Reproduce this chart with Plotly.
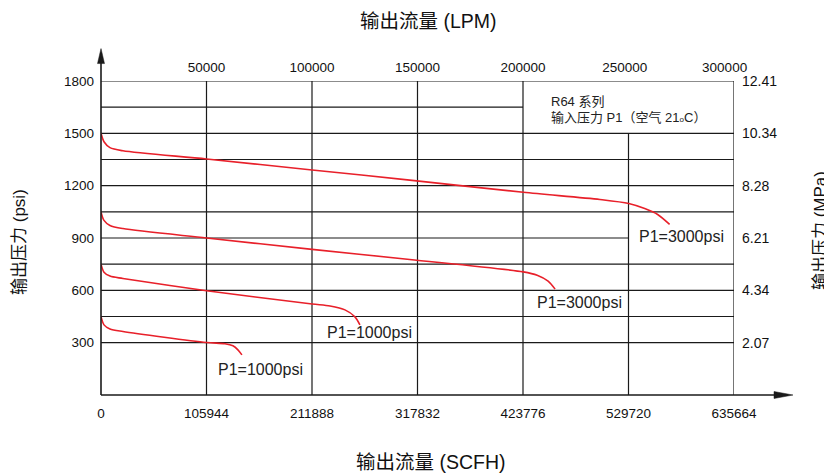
import plotly.graph_objects as go

# ---- data ----
scfh_ticks = [0, 105944, 211888, 317832, 423776, 529720, 635664]
lpm_ticks = [50000, 100000, 150000, 200000, 250000, 300000]
lpm_labels = ["50000", "100000", "150000", "200000", "250000\u00a0\u00a0", "300000\u00a0\u00a0\u00a0\u00a0\u00a0"]
psi_ticks = [300, 600, 900, 1200, 1500, 1800]
mpa_ticks = ["2.07", "4.34", "6.21", "8.28", "10.34", "12.41"]
grid_psi = [300, 450, 600, 750, 900, 1050, 1200, 1350, 1500, 1650, 1800]

# curve 1: P1=3000psi (upper)
c1_x = [0, 3000, 9000, 22000, 106000, 212000, 310000, 424000, 501000, 530000, 546000, 559000, 571000]
c1_y = [1500, 1452, 1418, 1400, 1353, 1290, 1232, 1162, 1121, 1098, 1069, 1035, 978]
# curve 2: P1=3000psi (lower)
c2_x = [0, 3000, 9000, 22000, 106000, 212000, 310000, 424000, 438000, 449000, 456000]
c2_y = [1050, 1001, 972, 954, 900, 835, 777, 706, 687, 653, 607]
# curve 3: P1=1000psi (upper)
c3_x = [0, 3000, 9000, 22000, 106000, 212000, 230000, 245000, 255000, 260000]
c3_y = [750, 704, 682, 668, 598, 522, 510, 488, 448, 402]
# curve 4: P1=1000psi (lower)
c4_x = [0, 3000, 9000, 22000, 106000, 124500, 132500, 137500, 141500]
c4_y = [450, 402, 379, 364, 301, 294, 282, 259, 230]

curve_labels = ["P1=3000psi", "P1=3000psi", "P1=1000psi", "P1=1000psi"]

FONT = "Liberation Sans, Arial, Noto Sans CJK SC, sans-serif"
RED = "#e8202a"
INK = "#1a1a1a"

fig = go.Figure()
for xs, ys in [(c1_x, c1_y), (c2_x, c2_y), (c3_x, c3_y), (c4_x, c4_y)]:
    fig.add_trace(go.Scatter(x=xs, y=ys, mode="lines",
                             line=dict(color=RED, width=1.6, shape="spline", smoothing=0.8),
                             showlegend=False, hoverinfo="skip"))
# dummy trace for secondary axes
fig.add_trace(go.Scatter(x=[None], y=[None], xaxis="x2", yaxis="y2", showlegend=False))

shapes = []
# horizontal grid
for p in grid_psi:
    x_end = scfh_ticks[-1]
    if p == 1650:
        x_end = scfh_ticks[4]
    elif p == 900:
        x_end = scfh_ticks[5]
    shapes.append(dict(type="line", xref="x", yref="y", x0=0, x1=x_end, y0=p, y1=p,
                       line=dict(color=INK, width=1.2), layer="below"))
# vertical grid
for v in scfh_ticks[1:]:
    y_top = 1500 if v == scfh_ticks[5] else 1800
    shapes.append(dict(type="line", xref="x", yref="y", x0=v, x1=v, y0=0, y1=y_top,
                       line=dict(color=INK, width=1.2), layer="below"))

# axes with arrows (paper coords); reference pixel frame: plot x 101..734, y bottom 395.5
PW, PH = 633.0, 315.0
ytip = (395.5 - 48) / PH
ybase = (395.5 - 63) / PH
xtip = (793 - 101) / PW
xbase = (774 - 101) / PW
shapes.append(dict(type="line", xref="paper", yref="paper", x0=0, x1=0, y0=0, y1=ybase + 0.005,
                   line=dict(color=INK, width=1.6)))
shapes.append(dict(type="path", xref="paper", yref="paper",
                   path=f"M {-3.5/PW} {ybase} L 0 {ytip} L {3.5/PW} {ybase} Z",
                   fillcolor=INK, line=dict(color=INK, width=0.5)))
shapes.append(dict(type="line", xref="paper", yref="paper", x0=0, x1=xbase + 0.005, y0=0, y1=0,
                   line=dict(color=INK, width=1.6)))
shapes.append(dict(type="path", xref="paper", yref="paper",
                   path=f"M {xbase} {-3.5/PH} L {xtip} 0 L {xbase} {3.5/PH} Z",
                   fillcolor=INK, line=dict(color=INK, width=0.5)))

annotations = []
label_pos = [(583400, 910), (481000, 528), (270100, 356), (159700, 145)]
for txt, (lx, ly) in zip(curve_labels, label_pos):
    annotations.append(dict(x=lx, y=ly, xref="x", yref="y", text=txt, showarrow=False,
                            font=dict(family=FONT, size=16, color="#222")))
annotations.append(dict(x=449900, y=1680, xref="x", yref="y", xanchor="left",
                        text="R64 系列", showarrow=False,
                        font=dict(family=FONT, size=13, color="#222")))
annotations.append(dict(x=449900, y=1588, xref="x", yref="y", xanchor="left",
                        text="输入压力 P1（空气 21<span style='font-size:8px'>o</span>C）", showarrow=False,
                        font=dict(family=FONT, size=13, color="#222")))
# axis titles (positions given in reference pixels, converted to paper)
titles = [
    ("输出流量 (LPM)", 428, 20, 0, 19.5),
    ("输出流量 (SCFH)", 431, 463, 0, 19.5),
    ("输出压力 (psi)", 20, 242, -90, 17),
    ("输出压力 (MPa)", 820, 231, -90, 17),
]
for txt, px, py, ang, fs in titles:
    annotations.append(dict(x=(px - 101) / PW, y=(395.5 - py) / PH, xref="paper", yref="paper",
                            xanchor="center", yanchor="middle", text=txt, textangle=ang,
                            showarrow=False, font=dict(family=FONT, size=fs, color="#111")))

# page body has an 8px margin: shrink the figure and shift margins accordingly
fig.update_layout(
    width=824, height=468,
    margin=dict(l=93, r=98, t=72.5, b=80.5, autoexpand=False),
    paper_bgcolor="white", plot_bgcolor="white",
    showlegend=False,
    xaxis=dict(range=[0, scfh_ticks[-1]], tickvals=scfh_ticks, ticktext=[str(v) for v in scfh_ticks],
               showgrid=False, zeroline=False, showline=False, ticks="",
               ticklabelstandoff=8, tickfont=dict(family=FONT, size=13.5, color="#111")),
    yaxis=dict(range=[0, 1800], tickvals=psi_ticks, ticktext=[str(v) for v in psi_ticks],
               showgrid=False, zeroline=False, showline=False, ticks="",
               ticklabelstandoff=6, tickfont=dict(family=FONT, size=13.5, color="#111")),
    xaxis2=dict(range=[0, 300000], overlaying="x", side="top", tickvals=lpm_ticks,
                ticktext=lpm_labels, showgrid=False, zeroline=False,
                showline=False, ticks="", ticklabelstandoff=5,
                tickfont=dict(family=FONT, size=13.5, color="#111")),
    yaxis2=dict(range=[0, 1800], overlaying="y", side="right", tickvals=psi_ticks,
                ticktext=mpa_ticks, showgrid=False, zeroline=False, showline=False, ticks="",
                ticklabelstandoff=7, tickfont=dict(family=FONT, size=14, color="#111")),
    shapes=shapes,
    annotations=annotations,
)

fig.write_html("out.html")
